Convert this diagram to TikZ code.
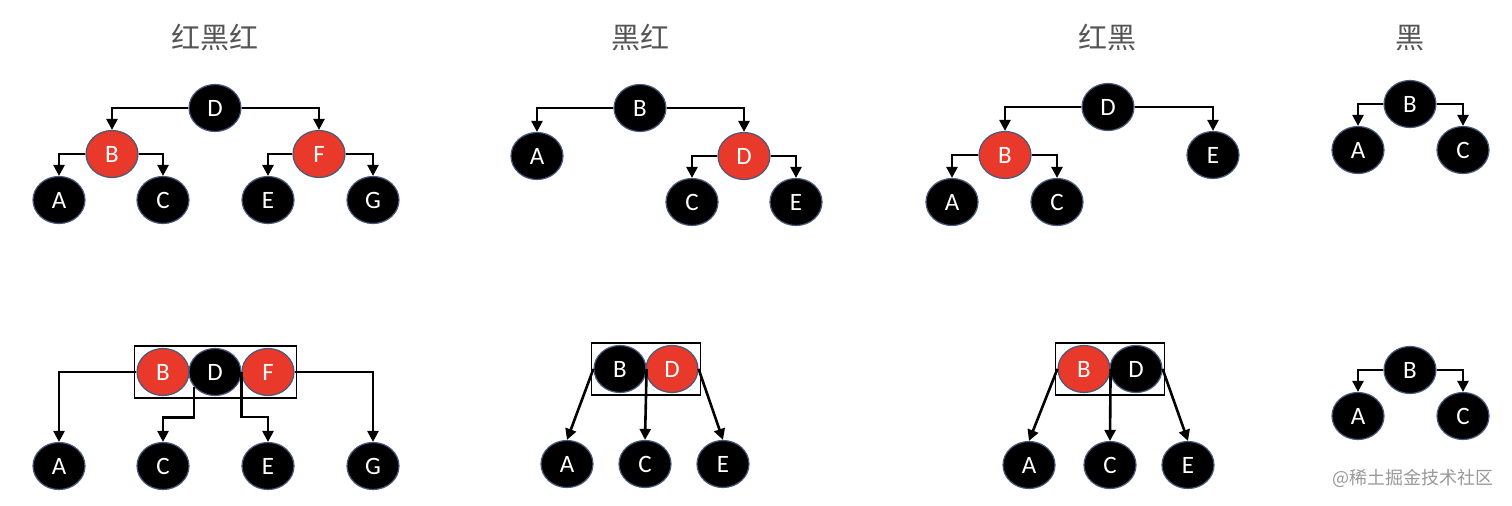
\documentclass[tikz,border=0pt]{standalone}
\usepackage{fontspec}
\usepackage{tikz}
\usetikzlibrary{arrows.meta,shapes.geometric,fit}
\usepackage{xcolor}
\newfontfamily\cjk{Noto Sans CJK SC}
\newfontfamily\lettr{Carlito}
\definecolor{rbred}{RGB}{233,57,42}
\definecolor{rimblue}{RGB}{70,90,125}
\definecolor{titlegray}{RGB}{85,85,85}

\begin{document}
\begin{tikzpicture}[
    x=0.5pt, y=-0.5pt,
    rbnode/.style={ellipse, draw=rimblue, line width=0.6pt, minimum width=26pt,
                   minimum height=23.5pt, inner sep=0pt, text=white,
                   font=\lettr\fontsize{12.5}{13}\selectfont},
    bnode/.style={rbnode, fill=black},
    rnode/.style={rbnode, fill=rbred},
    title/.style={font=\cjk\fontsize{14.5}{16}\selectfont, text=titlegray},
    merged/.style={draw, line width=0.7pt, inner sep=1pt},
    link/.style={-{Triangle[length=5.5pt,width=5.5pt]}, line width=1.3pt},
]
\fill[white] (0,0) rectangle (1512,505);
\useasboundingbox (0,0) rectangle (1512,505);

% 红黑红 — top tree
\node[title] (t1) at (215,38) {红黑红};
\node[bnode] (p1D) at (215,108) {D};
\node[rnode] (p1B) at (112,154) {B};
\node[rnode] (p1F) at (319,154) {F};
\node[bnode] (p1A) at (59,200) {A};
\node[bnode] (p1C) at (163,200) {C};
\node[bnode] (p1E) at (268,200) {E};
\node[bnode] (p1G) at (373,200) {G};
\draw[link] (p1D.west) -| (p1B.north);
\draw[link] (p1D.east) -| (p1F.north);
\draw[link] (p1B.west) -| (p1A.north);
\draw[link] (p1B.east) -| (p1C.north);
\draw[link] (p1F.west) -| (p1E.north);
\draw[link] (p1F.east) -| (p1G.north);

% 红黑红 — merged node
\node[rnode] (q1B) at (163,372) {B};
\node[bnode] (q1D) at (215,372) {D};
\node[rnode] (q1F) at (268,372) {F};
\node[merged, fit=(q1B)(q1D)(q1F)] (box1) {};
\node[bnode] (q1A) at (59,466) {A};
\node[bnode] (q1C) at (163,466) {C};
\node[bnode] (q1E) at (268,466) {E};
\node[bnode] (q1G) at (373,466) {G};
\draw[link] (q1B.west) -| (q1A.north);
\draw[link] (q1D.215) -- ++(0,31) -| (q1C.north);
\draw[link] (q1D.east) -- ++(0,45) -| (q1E.north);
\draw[link] (q1F.east) -| (q1G.north);

% 黑红 — top tree
\node[title] (t2) at (640,38) {黑红};
\node[bnode] (p2B) at (640,108) {B};
\node[bnode] (p2A) at (537,156) {A};
\node[rnode] (p2D) at (744,156) {D};
\node[bnode] (p2C) at (692,202) {C};
\node[bnode] (p2E) at (796,202) {E};
\draw[link] (p2B.west) -| (p2A.north);
\draw[link] (p2B.east) -| (p2D.north);
\draw[link] (p2D.west) -| (p2C.north);
\draw[link] (p2D.east) -| (p2E.north);

% 黑红 — merged node
\node[bnode] (q2B) at (620,369) {B};
\node[rnode] (q2D) at (672,369) {D};
\node[merged, fit=(q2B)(q2D)] (box2) {};
\node[bnode] (q2A) at (567,464) {A};
\node[bnode] (q2C) at (645,464) {C};
\node[bnode] (q2E) at (723,464) {E};
\draw[link] (q2B.west) -- (q2A.north);
\draw[link] (q2B.east) -- (q2C.north);
\draw[link] (q2D.east) -- (q2E.north);

% 红黑 — top tree
\node[title] (t3) at (1107,38) {红黑};
\node[bnode] (p3D) at (1108,107) {D};
\node[rnode] (p3B) at (1005,155) {B};
\node[bnode] (p3E) at (1213,155) {E};
\node[bnode] (p3A) at (952,202) {A};
\node[bnode] (p3C) at (1057,202) {C};
\draw[link] (p3D.west) -| (p3B.north);
\draw[link] (p3D.east) -| (p3E.north);
\draw[link] (p3B.west) -| (p3A.north);
\draw[link] (p3B.east) -| (p3C.north);

% 红黑 — merged node
\node[rnode] (q3B) at (1084,369) {B};
\node[bnode] (q3D) at (1136,369) {D};
\node[merged, fit=(q3B)(q3D)] (box3) {};
\node[bnode] (q3A) at (1029,465) {A};
\node[bnode] (q3C) at (1110,465) {C};
\node[bnode] (q3E) at (1188,465) {E};
\draw[link] (q3B.west) -- (q3A.north);
\draw[link] (q3B.east) -- (q3C.north);
\draw[link] (q3D.east) -- (q3E.north);

% 黑 — top and bottom are the same
\node[title] (t4) at (1410,38) {黑};
\node[bnode] (p4B) at (1410,104) {B};
\node[bnode] (p4A) at (1358,150) {A};
\node[bnode] (p4C) at (1463,150) {C};
\draw[link] (p4B.west) -| (p4A.north);
\draw[link] (p4B.east) -| (p4C.north);

\node[bnode] (q4B) at (1410,370) {B};
\node[bnode] (q4A) at (1358,416) {A};
\node[bnode] (q4C) at (1463,416) {C};
\draw[link] (q4B.west) -| (q4A.north);
\draw[link] (q4B.east) -| (q4C.north);

\node[font=\cjk\fontsize{9}{10}\selectfont, text=black!40] (credit) at (1413,478) {@稀土掘金技术社区};

\end{tikzpicture}
\end{document}
